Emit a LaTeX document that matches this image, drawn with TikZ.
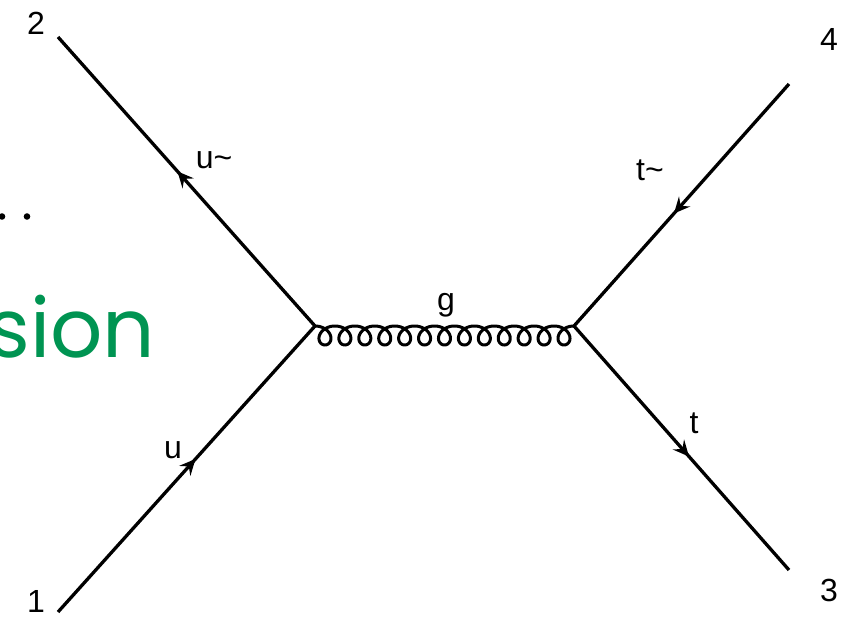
\documentclass[tikz,border=0pt]{standalone}
\usepackage{fontspec}
\setmainfont{Liberation Sans}
\newfontfamily\geofont{Poppins}
\usetikzlibrary{arrows.meta,decorations.markings}
\definecolor{slidegreen}{RGB}{0,148,82}
\begin{document}
\begin{tikzpicture}[x=1pt,y=-1pt,line width=3.3pt,
  lbl/.style={font=\fontsize{32}{32}\selectfont,inner sep=0pt},
  fermion/.style={draw,postaction={decorate},
    decoration={markings,mark=at position #1 with {\arrow{Stealth[length=16pt,width=15pt,inset=6pt]}}}},
  dotmark/.style={fill=black,draw=none}]
\useasboundingbox (0,0) rectangle (853,620);
% slide fragments behind the diagram
\node[font=\geofont\fontsize{82}{82}\selectfont,text=slidegreen,anchor=base east,inner sep=0pt] (slidetxt) at (157,357) {sion};
\fill[dotmark] (2,216.5) circle (3.3);
\fill[dotmark] (27,216.5) circle (3.3);
% vertices and external points
\coordinate (v1) at (315,326);
\coordinate (v2) at (574,326);
\coordinate (p1) at (58,612);
\coordinate (p2) at (58,37);
\coordinate (p3) at (789,570);
\coordinate (p4) at (789,84);
% fermion lines
\draw[fermion=0.535] (p1) -- (v1);
\draw[fermion=0.535] (v1) -- (p2);
\draw[fermion=0.535] (p4) -- (v2);
\draw[fermion=0.535] (v2) -- (p3);
% gluon
\draw[line width=3pt] plot[domain=0:81.681,samples=800]
  ({315 + 19.92*\x/(2*pi) + 10.5*sin(\x r)}, {326 + 9.5*(1-cos(\x r))});
% labels
\node[lbl] (n2) at (36,23.5) {2};
\node[lbl] (n1) at (36,601) {1};
\node[lbl] (n4) at (829,39) {4};
\node[lbl] (n3) at (829,590) {3};
\node[lbl] (lub) at (214,160) {u\char`\~};
\node[lbl] (lu) at (173,450) {u};
\node[lbl] (ltb) at (650,170) {t\char`\~};
\node[lbl] (lt) at (694,423) {t};
\node[lbl] (lg) at (446,305) {g};
\end{tikzpicture}
\end{document}
